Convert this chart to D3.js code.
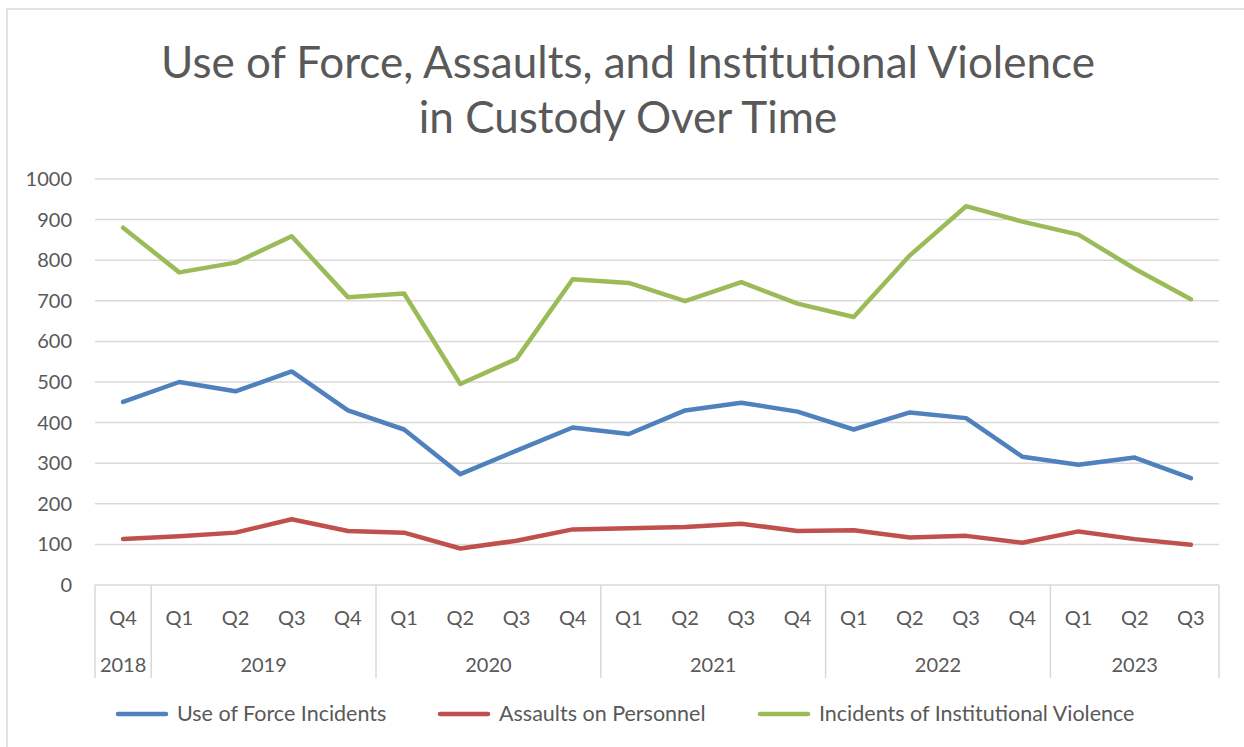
<!DOCTYPE html>
<html>
<head>
<meta charset="utf-8">
<script src="https://cdn.jsdelivr.net/npm/d3@7"></script>
<style>
  html, body { margin: 0; padding: 0; background: #fff; }
  svg { display: block; }
  text { font-family: Lato, "Open Sans", sans-serif; fill: #595959; }
</style>
</head>
<body>
<svg id="chart" width="1244" height="747"></svg>
<script>
const quarters = ["Q4","Q1","Q2","Q3","Q4","Q1","Q2","Q3","Q4","Q1","Q2","Q3","Q4","Q1","Q2","Q3","Q4","Q1","Q2","Q3"];
const years = ["2018","2019","2019","2019","2019","2020","2020","2020","2020","2021","2021","2021","2021","2022","2022","2022","2022","2023","2023","2023"];
const useOfForce = [451,500,477,526,430,383,273,331,388,372,430,449,427,383,425,411,316,296,314,263];
const assaults = [113,120,129,162,133,129,90,109,137,140,143,151,133,135,117,121,104,132,113,99];
const institutionalViolence = [880,770,794,859,709,718,495,557,753,744,699,746,693,660,812,933,895,863,779,704];
const seriesNames = ["Use of Force Incidents","Assaults on Personnel","Incidents of Institutional Violence"];
const yTicks = [0,100,200,300,400,500,600,700,800,900,1000];
const titleLines = ["Use of Force, Assaults, and Institutional Violence","in Custody Over Time"];

const colors = ["#4F81BD","#C0504D","#9BBB59"];
const seriesData = [useOfForce, assaults, institutionalViolence];

const svg = d3.select("#chart");
const L = 95, R = 1219, T = 179, B = 585;
const idx = d3.range(quarters.length);

// chart border (top and left visible)
svg.append("rect").attr("x",7).attr("y",9).attr("width",1260).attr("height",760)
  .attr("fill","none").attr("stroke","#d9d9d9").attr("stroke-width",1.5);

const x = d3.scaleBand().domain(idx).range([L,R]).paddingInner(0).paddingOuter(0);
const y = d3.scaleLinear().domain([0,1000]).range([B,T]);

// title
const titleG = svg.append("g");
const tBase = [78, 133];
titleLines.forEach((t,i) => {
  titleG.append("text").attr("x",628).attr("y",tBase[i]).attr("text-anchor","middle")
    .attr("font-size",40).text(t);
});
const t0 = titleG.select("text").node();
const w0 = t0.getComputedTextLength();
const fs = 40 * 942 / w0;
titleG.selectAll("text").attr("font-size", Math.min(fs, 44));

// gridlines
svg.append("g").selectAll("line").data(yTicks.filter(d=>d>0)).join("line")
  .attr("x1",L).attr("x2",R).attr("y1",d=>y(d)).attr("y2",d=>y(d))
  .attr("stroke","#d9d9d9").attr("stroke-width",1.5);

// y axis labels
const yAxis = d3.axisLeft(y).tickValues(yTicks).tickFormat(d3.format("d")).tickSize(0).tickPadding(23);
const yg = svg.append("g").attr("transform",`translate(${L},0)`).call(yAxis);
yg.select(".domain").remove();
yg.selectAll("text").attr("font-size",20).attr("fill","#595959")
  .style("font-family","Lato, 'Open Sans', sans-serif");

// x axis (two-level)
const xAxis = d3.axisBottom(x).tickFormat(i => quarters[i]).tickSize(0).tickPadding(0);
const xg = svg.append("g").attr("transform",`translate(0,${B})`).call(xAxis);
xg.select(".domain").remove();
xg.selectAll("text").attr("font-size",20).attr("dy",null).attr("y",40).attr("fill","#595959")
  .style("font-family","Lato, 'Open Sans', sans-serif");

svg.append("line").attr("x1",L).attr("x2",R).attr("y1",B).attr("y2",B)
  .attr("stroke","#d9d9d9").attr("stroke-width",1.5);

// year groups
const groups = [];
years.forEach((yr,i) => {
  if (!groups.length || groups[groups.length-1].year !== yr) groups.push({year:yr, start:i, end:i});
  else groups[groups.length-1].end = i;
});
const sepX = [x(0)].concat(groups.map(g => x(g.end) + x.bandwidth()));
svg.append("g").selectAll("line").data(sepX).join("line")
  .attr("x1",d=>d).attr("x2",d=>d).attr("y1",B).attr("y2",678)
  .attr("stroke","#d9d9d9").attr("stroke-width",1.5);
svg.append("g").selectAll("text").data(groups).join("text")
  .attr("x", g => (x(g.start) + x(g.end) + x.bandwidth())/2)
  .attr("y", 672).attr("text-anchor","middle").attr("font-size",20)
  .text(g => g.year);

// lines
const line = d3.line().x((d,i) => x(i) + x.bandwidth()/2).y(d => y(d));
svg.append("g").selectAll("path").data(seriesData).join("path")
  .attr("d", d => line(d)).attr("fill","none")
  .attr("stroke",(d,i)=>colors[i]).attr("stroke-width",4.5)
  .attr("stroke-linejoin","round").attr("stroke-linecap","round");

// legend
const legX = [118, 440, 760];
const lg = svg.append("g");
seriesNames.forEach((n,i) => {
  lg.append("line").attr("x1",legX[i]).attr("x2",legX[i]+48).attr("y1",714).attr("y2",714)
    .attr("stroke",colors[i]).attr("stroke-width",4.5).attr("stroke-linecap","round");
  lg.append("text").attr("x",legX[i]+59).attr("y",721).attr("font-size",21.5).text(n);
});
</script>
</body>
</html>
